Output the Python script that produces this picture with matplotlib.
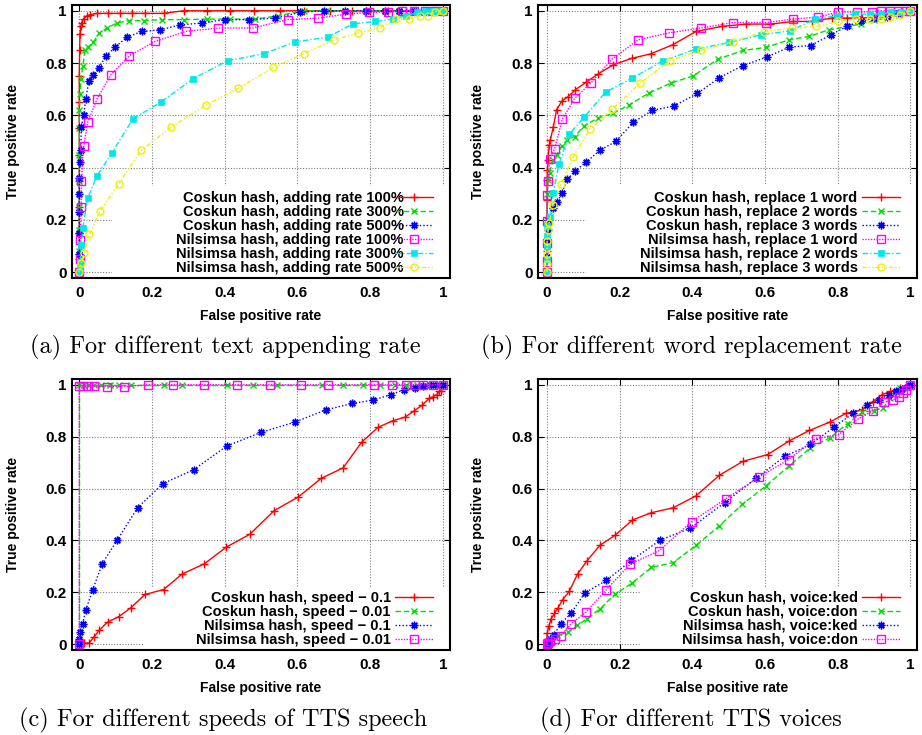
import matplotlib
matplotlib.use('Agg')
import matplotlib.pyplot as plt
from matplotlib.patches import Rectangle

plt.rcParams['font.family'] = ['Liberation Sans', 'DejaVu Sans']
plt.rcParams['font.weight'] = 'bold'

# ---- (a) text appending rate ----
a_labels = ['Coskun hash, adding rate 100%', 'Coskun hash, adding rate 300%',
            'Coskun hash, adding rate 500%', 'Nilsimsa hash, adding rate 100%',
            'Nilsimsa hash, adding rate 300%', 'Nilsimsa hash, adding rate 500%']
a1_x = [0, 0, 0, 0, 0, 0, 0, 0, 0, 0.001, 0.002, 0.004, 0.007, 0.012, 0.02, 0.03, 0.049, 0.078, 0.113, 0.145,
        0.18, 0.232, 0.287, 0.351, 0.415, 0.48, 0.553, 0.617, 0.69, 0.75, 0.8, 0.85, 0.9, 0.95, 1.0]
a1_y = [0, 0.05, 0.15, 0.25, 0.35, 0.45, 0.55, 0.65, 0.75, 0.85, 0.91, 0.94, 0.955, 0.97, 0.98, 0.985, 0.99, 0.99,
        0.99, 0.99, 0.99, 0.99, 1, 1, 1, 1, 1, 1, 1, 1, 1, 1, 1, 1, 1]
a2_x = [0, 0, 0, 0, 0, 0, 0, 0, 0.002, 0.005, 0.01, 0.016, 0.023, 0.039, 0.055, 0.076, 0.104, 0.136, 0.177, 0.227,
        0.287, 0.351, 0.415, 0.484, 0.548, 0.617, 0.68, 0.73, 0.79, 0.84, 0.88, 0.92, 0.96, 1.0]
a2_y = [0, 0.08, 0.16, 0.25, 0.35, 0.45, 0.55, 0.62, 0.68, 0.74, 0.79, 0.85, 0.86, 0.88, 0.915, 0.934, 0.953, 0.962,
        0.962, 0.966, 0.966, 0.968, 0.968, 0.968, 0.981, 1, 1, 1, 1, 1, 1, 1, 1, 1]
a3_x = [0, 0, 0, 0, 0, 0, 0.002, 0.004, 0.006, 0.012, 0.018, 0.026, 0.038, 0.053, 0.074, 0.099, 0.131, 0.172, 0.223,
        0.278, 0.337, 0.401, 0.466, 0.539, 0.608, 0.672, 0.73, 0.79, 0.84, 0.88, 0.92, 0.96, 1.0]
a3_y = [0, 0.07, 0.15, 0.23, 0.3, 0.36, 0.42, 0.468, 0.557, 0.602, 0.663, 0.73, 0.755, 0.78, 0.828, 0.861, 0.899,
        0.921, 0.927, 0.946, 0.953, 0.966, 0.966, 0.972, 0.994, 1, 1, 1, 1, 1, 1, 1, 1]
a4_x = [0, 0.001, 0.003, 0.005, 0.006, 0.012, 0.023, 0.049, 0.087, 0.138, 0.209, 0.293, 0.383, 0.477, 0.573, 0.658,
        0.734, 0.796, 0.849, 0.887, 0.92, 0.95, 0.975, 1.0]
a4_y = [0, 0.05, 0.124, 0.25, 0.347, 0.481, 0.573, 0.663, 0.755, 0.828, 0.883, 0.921, 0.934, 0.934, 0.966, 0.972,
        0.987, 0.994, 0.994, 1, 1, 1, 1, 1]
a5_x = [0, 0.002, 0.003, 0.005, 0.01, 0.023, 0.049, 0.089, 0.148, 0.225, 0.312, 0.408, 0.507, 0.594, 0.684, 0.753,
        0.814, 0.862, 0.899, 0.928, 0.95, 0.97, 0.985, 1.0]
a5_y = [0, 0.015, 0.04, 0.105, 0.171, 0.283, 0.369, 0.455, 0.587, 0.651, 0.739, 0.809, 0.835, 0.881, 0.899, 0.95,
        0.959, 0.968, 0.981, 0.994, 1, 1, 1, 1]
a6_x = [0, 0.005, 0.014, 0.028, 0.058, 0.108, 0.17, 0.252, 0.348, 0.438, 0.534, 0.617, 0.702, 0.768, 0.826, 0.871,
        0.906, 0.938, 0.959, 0.979, 1.0]
a6_y = [0, 0.034, 0.073, 0.145, 0.236, 0.337, 0.466, 0.554, 0.639, 0.704, 0.783, 0.835, 0.889, 0.915, 0.934, 0.968,
        0.968, 0.981, 0.981, 0.997, 1.0]

# ---- (b) word replacement rate ----
b_labels = ['Coskun hash, replace 1 word', 'Coskun hash, replace 2 words', 'Coskun hash, replace 3 words',
            'Nilsimsa hash, replace 1 word', 'Nilsimsa hash, replace 2 words', 'Nilsimsa hash, replace 3 words']
b1_x = [0, 0, 0, 0, 0, 0.001, 0.002, 0.006, 0.009, 0.017, 0.026, 0.04, 0.058, 0.078, 0.107, 0.141, 0.182, 0.233,
        0.285, 0.346, 0.41, 0.481, 0.547, 0.614, 0.678, 0.729, 0.784, 0.825, 0.867, 0.908, 0.945, 0.977, 1.0]
b1_y = [0, 0.08, 0.18, 0.277, 0.353, 0.39, 0.43, 0.487, 0.506, 0.554, 0.621, 0.653, 0.672, 0.698, 0.726, 0.759,
        0.793, 0.818, 0.835, 0.87, 0.921, 0.94, 0.949, 0.949, 0.959, 0.959, 0.972, 0.972, 0.972, 0.976, 0.985,
        0.994, 1.0]
b2_x = [0, 0, 0, 0, 0.003, 0.007, 0.017, 0.026, 0.04, 0.055, 0.076, 0.102, 0.139, 0.182, 0.226, 0.28, 0.34, 0.403,
        0.47, 0.539, 0.603, 0.667, 0.722, 0.775, 0.83, 0.865, 0.899, 0.936, 0.968, 1.0]
b2_y = [0, 0.1, 0.2, 0.3, 0.353, 0.381, 0.43, 0.449, 0.482, 0.506, 0.519, 0.56, 0.589, 0.608, 0.64, 0.685, 0.723,
        0.751, 0.815, 0.848, 0.86, 0.889, 0.902, 0.927, 0.94, 0.95, 0.963, 0.972, 0.985, 1.0]
b3_x = [0, 0, 0, 0.002, 0.006, 0.017, 0.028, 0.04, 0.056, 0.078, 0.108, 0.145, 0.189, 0.237, 0.29, 0.35, 0.414,
        0.474, 0.539, 0.605, 0.667, 0.726, 0.781, 0.825, 0.865, 0.899, 0.936, 0.966, 1.0]
b3_y = [0, 0.06, 0.12, 0.162, 0.2, 0.244, 0.267, 0.302, 0.356, 0.389, 0.421, 0.466, 0.5, 0.573, 0.619, 0.636, 0.684,
        0.744, 0.79, 0.823, 0.861, 0.867, 0.908, 0.94, 0.959, 0.972, 0.978, 0.991, 1.0]
b4_x = [0, 0, 0, 0, 0, 0.003, 0.007, 0.021, 0.042, 0.076, 0.12, 0.179, 0.251, 0.335, 0.423, 0.513, 0.603, 0.678,
        0.747, 0.8, 0.853, 0.895, 0.92, 0.945, 0.965, 0.985, 1.0]
b4_y = [0, 0.04, 0.11, 0.194, 0.296, 0.349, 0.432, 0.473, 0.585, 0.665, 0.723, 0.815, 0.889, 0.915, 0.934, 0.955,
        0.955, 0.968, 0.976, 0.995, 0.995, 0.997, 1, 1, 1, 1, 1]
b5_x = [0, 0, 0, 0, 0, 0.007, 0.017, 0.033, 0.061, 0.102, 0.161, 0.234, 0.32, 0.409, 0.502, 0.589, 0.669, 0.738,
        0.798, 0.848, 0.888, 0.92, 0.948, 0.975, 1.0]
b5_y = [0, 0.05, 0.1, 0.14, 0.175, 0.21, 0.302, 0.415, 0.528, 0.593, 0.689, 0.742, 0.809, 0.853, 0.879, 0.908,
        0.923, 0.968, 0.981, 0.987, 0.987, 0.987, 0.994, 0.997, 1.0]
b6_x = [0, 0, 0, 0, 0.003, 0.006, 0.017, 0.038, 0.072, 0.118, 0.18, 0.256, 0.338, 0.424, 0.511, 0.597, 0.674, 0.741,
        0.802, 0.851, 0.888, 0.919, 0.945, 0.971, 1.0]
b6_y = [0, 0.03, 0.07, 0.12, 0.16, 0.19, 0.258, 0.337, 0.441, 0.547, 0.624, 0.723, 0.809, 0.848, 0.881, 0.92, 0.934,
        0.94, 0.959, 0.969, 0.969, 0.968, 0.976, 0.985, 1.0]

# ---- (c) TTS speech speed ----
c_labels = ['Coskun hash, speed \u2212 0.1', 'Coskun hash, speed \u2212 0.01',
            'Nilsimsa hash, speed \u2212 0.1', 'Nilsimsa hash, speed \u2212 0.01']
c1_x = [0, 0.014, 0.028, 0.04, 0.055, 0.078, 0.108, 0.141, 0.181, 0.232, 0.283, 0.344, 0.404, 0.469, 0.536, 0.603,
        0.665, 0.726, 0.777, 0.822, 0.864, 0.896, 0.922, 0.944, 0.963, 0.974, 0.983, 0.99, 0.995, 1.0]
c1_y = [0, 0.004, 0.006, 0.028, 0.054, 0.086, 0.106, 0.14, 0.192, 0.211, 0.271, 0.31, 0.374, 0.424, 0.515, 0.568,
        0.639, 0.68, 0.779, 0.836, 0.862, 0.875, 0.9, 0.922, 0.948, 0.954, 0.962, 0.974, 0.977, 1.0]
c2_x = [0, 0, 0.014, 0.028, 0.041, 0.06, 0.085, 0.108, 0.142, 0.234, 0.283, 0.406, 0.478, 0.544, 0.669, 0.726,
        0.781, 0.827, 0.869, 0.9, 0.928, 0.951, 0.974, 1.0]
c2_y = [0, 1, 1, 1, 1, 1, 1, 1, 1, 1, 1, 1, 1, 1, 1, 1, 1, 1, 1, 1, 1, 1, 1, 1]
c3_x = [0, 0, 0.003, 0.009, 0.018, 0.037, 0.063, 0.104, 0.161, 0.23, 0.315, 0.406, 0.501, 0.593, 0.678, 0.751,
        0.809, 0.857, 0.894, 0.925, 0.946, 0.967, 0.983, 1.0]
c3_y = [0, 0.019, 0.047, 0.079, 0.132, 0.211, 0.31, 0.401, 0.527, 0.619, 0.673, 0.764, 0.817, 0.856, 0.903, 0.928,
        0.941, 0.962, 0.981, 0.987, 0.994, 1, 1, 1]
c4_x = [0, 0, 0.009, 0.023, 0.041, 0.075, 0.124, 0.19, 0.259, 0.343, 0.435, 0.524, 0.611, 0.685, 0.812, 0.859,
        0.899, 0.924, 0.947, 0.974, 1.0]
c4_y = [0, 0.995, 0.995, 0.995, 0.995, 0.993, 0.993, 1, 1, 1, 1, 1, 1, 1, 1, 1, 1, 1, 1, 1, 1]

# ---- (d) TTS voices ----
d_labels = ['Coskun hash, voice:ked', 'Coskun hash, voice:don',
            'Nilsimsa hash, voice:ked', 'Nilsimsa hash, voice:don']
d1_x = [0, 0, 0, 0.005, 0.011, 0.02, 0.03, 0.043, 0.061, 0.084, 0.11, 0.145, 0.188, 0.235, 0.287, 0.347, 0.41,
        0.474, 0.539, 0.607, 0.667, 0.722, 0.778, 0.823, 0.867, 0.896, 0.922, 0.945, 0.971, 1.0]
d1_y = [0, 0.022, 0.042, 0.07, 0.098, 0.119, 0.14, 0.172, 0.204, 0.271, 0.322, 0.381, 0.421, 0.479, 0.507, 0.526,
        0.572, 0.651, 0.705, 0.731, 0.784, 0.824, 0.856, 0.89, 0.903, 0.935, 0.962, 0.974, 0.987, 1.0]
d2_x = [0, 0.005, 0.016, 0.028, 0.058, 0.083, 0.11, 0.147, 0.186, 0.234, 0.287, 0.347, 0.41, 0.474, 0.537, 0.603,
        0.665, 0.725, 0.779, 0.827, 0.867, 0.899, 0.925, 0.945, 0.971, 1.0]
d2_y = [0, 0.019, 0.028, 0.034, 0.047, 0.073, 0.098, 0.138, 0.192, 0.236, 0.296, 0.315, 0.381, 0.456, 0.539, 0.611,
        0.686, 0.757, 0.796, 0.85, 0.894, 0.9, 0.911, 0.949, 0.987, 1.0]
d3_x = [0, 0.002, 0.009, 0.018, 0.037, 0.066, 0.104, 0.163, 0.232, 0.312, 0.394, 0.489, 0.575, 0.654, 0.725, 0.79,
        0.842, 0.881, 0.913, 0.94, 0.961, 0.977, 0.99, 1.0]
d3_y = [0, 0.013, 0.022, 0.034, 0.079, 0.119, 0.198, 0.246, 0.323, 0.402, 0.447, 0.546, 0.639, 0.724, 0.77, 0.837,
        0.89, 0.922, 0.941, 0.962, 0.974, 0.983, 0.992, 1.0]
d4_x = [0, 0.002, 0.009, 0.021, 0.037, 0.066, 0.107, 0.162, 0.229, 0.309, 0.398, 0.492, 0.583, 0.665, 0.739, 0.803,
        0.856, 0.897, 0.927, 0.952, 0.968, 0.98, 0.989, 1.0]
d4_y = [0, 0.006, 0.013, 0.019, 0.032, 0.079, 0.124, 0.209, 0.309, 0.361, 0.473, 0.561, 0.644, 0.712, 0.792, 0.808,
        0.868, 0.9, 0.932, 0.941, 0.954, 0.967, 0.98, 1.0]

captions = ['(a) For different text appending rate', '(b) For different word replacement rate',
            '(c) For different speeds of TTS speech', '(d) For different TTS voices']
tick_vals = [0, 0.2, 0.4, 0.6, 0.8, 1]
tick_text = ['0', '0.2', '0.4', '0.6', '0.8', '1']

# gnuplot-like line types
styles = [
    dict(color='#ff0000', ls='-', marker='+', ms=6, mew=1.0),
    dict(color='#00e000', ls=(0, (4, 2)), marker='x', ms=4.5, mew=1.0),
    dict(color='#0000ff', ls=(0, (1, 1.5)), marker=(8, 2, 0), ms=5.5, mew=1.0),
    dict(color='#ff00ff', ls=(0, (1, 1)), marker='s', ms=5.5, mew=1.0, mfc='none'),
    dict(color='#00e8e8', ls=(0, (4, 1.5, 1, 1.5)), marker='s', ms=5, mew=0.5),
    dict(color='#f0f000', ls=(0, (3, 1.5, 1, 1.5, 1, 1.5)), marker='o', ms=5, mew=1.0, mfc='none'),
]
panels = [
    ([(a1_x, a1_y), (a2_x, a2_y), (a3_x, a3_y), (a4_x, a4_y), (a5_x, a5_y), (a6_x, a6_y)], a_labels, [0, 1, 2, 3, 4, 5]),
    ([(b1_x, b1_y), (b2_x, b2_y), (b3_x, b3_y), (b4_x, b4_y), (b5_x, b5_y), (b6_x, b6_y)], b_labels, [0, 1, 2, 3, 4, 5]),
    ([(c1_x, c1_y), (c2_x, c2_y), (c3_x, c3_y), (c4_x, c4_y)], c_labels, [0, 1, 2, 3]),
    ([(d1_x, d1_y), (d2_x, d2_y), (d3_x, d3_y), (d4_x, d4_y)], d_labels, [0, 1, 2, 3]),
]

# layout (figure fractions)
rects = [[0.0781, 0.6218, 0.410, 0.3714], [0.5835, 0.6218, 0.411, 0.3714],
         [0.0781, 0.1156, 0.410, 0.3687], [0.5835, 0.1156, 0.411, 0.3687]]
xlims = [(-0.02, 1.02), (-0.025, 1.018), (-0.02, 1.02), (-0.025, 1.018)]
keybox = [(0.106, 0.337), (0.126, 0.341), (0.19, 0.232), (0.27, 0.232)]
text_pad = [-0.6, 0.3, 0.3, 0.3]
cap_pos = [(225, 347), (691, 347), (223, 720), (691, 720)]

fig = plt.figure(figsize=(9.22, 7.35), dpi=100)

for i, (series, labels, sty) in enumerate(panels):
    ax = fig.add_axes(rects[i])
    ax.set_axisbelow(True)
    ax.grid(True, color='#808080', ls=(0, (1, 1.5)), lw=0.8)
    # opaque key area like gnuplot
    ax.add_patch(Rectangle((keybox[i][0], 0), 1 - keybox[i][0], keybox[i][1], transform=ax.transAxes,
                           facecolor='white', edgecolor='none', zorder=0.7))
    for (x, y), lab, s in zip(series, labels, sty):
        ax.plot(x, y, lw=1.0, label=lab, **styles[s])
    ax.set_xlim(*xlims[i])
    ax.set_ylim(-0.022, 1.022)
    ax.set_xticks(tick_vals)
    ax.set_xticklabels(tick_text)
    ax.set_yticks(tick_vals)
    ax.set_yticklabels(tick_text)
    ax.tick_params(direction='in', top=True, right=True, length=4, width=0.8, labelsize=11)
    ax.tick_params(axis='x', pad=6)
    ax.tick_params(axis='y', pad=4)
    for sp in ax.spines.values():
        sp.set_linewidth(1.5)
    ax.set_xlabel('False positive rate', fontsize=10, fontweight='bold')
    ax.set_ylabel('True positive rate', fontsize=10, fontweight='bold')
    ax.xaxis.set_label_coords(0.5, -0.14)
    ax.xaxis.label.set_va('center')
    ax.yaxis.set_label_coords(-0.157, 0.5)
    ax.yaxis.label.set_va('center')
    leg = ax.legend(loc='lower right', bbox_to_anchor=(0.955, 0.012), frameon=False, markerfirst=False,
                    fontsize=10.5, handlelength=2.6, handletextpad=text_pad[i], labelspacing=0.0,
                    borderpad=0, borderaxespad=0, numpoints=1)
    leg.set_zorder(5)
    fig.text(cap_pos[i][0] / 922, 1 - cap_pos[i][1] / 735, captions[i], family='cmr10', fontweight='normal',
             fontsize=17.5, ha='center', va='center')

fig.savefig('out.png', dpi=100)
